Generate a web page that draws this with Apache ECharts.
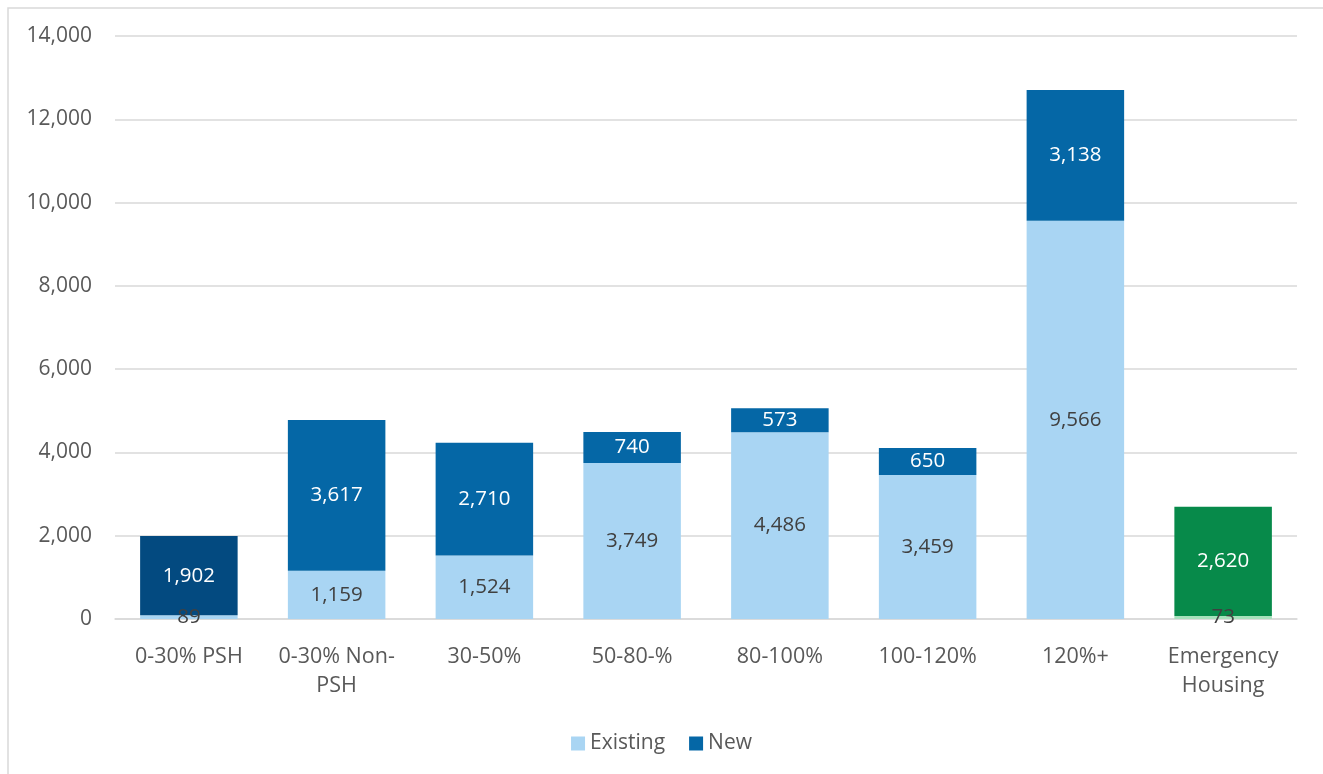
<!DOCTYPE html>
<html>
<head>
<meta charset="utf-8">
<script src="https://cdn.jsdelivr.net/npm/echarts@6/dist/echarts.min.js"></script>
<style>
  html, body { margin: 0; padding: 0; background: #ffffff; }
  #chart { width: 1323px; height: 774px; }
</style>
</head>
<body>
<div id="chart"></div>
<script>
// Housing units by income band
const categories = ['0-30% PSH', '0-30% Non-\nPSH', '30-50%', '50-80-%', '80-100%', '100-120%', '120%+', 'Emergency\nHousing'];
const existingUnits = [89, 1159, 1524, 3749, 4486, 3459, 9566, 73];
const newUnits = [1902, 3617, 2710, 740, 573, 650, 3138, 2620];
const yTicks = { min: 0, max: 14000, interval: 2000 };

const FONT = '"Open Sans", "Noto Sans", sans-serif';
const TEXT = '#595959';
const LIGHT_BLUE = '#A9D5F3';
const BLUE = '#0567A6';
const NAVY = '#034A80';
const GREEN = '#078A4A';
const LIGHT_GREEN = '#A6E1BC';

const fmt = v => v.toLocaleString('en-US');

// Per-bar colours: first band is darker, last band is green
const existingData = existingUnits.map((v, i) => ({
  value: v,
  itemStyle: { color: i === categories.length - 1 ? LIGHT_GREEN : LIGHT_BLUE }
}));
const newData = newUnits.map((v, i) => ({
  value: v,
  itemStyle: { color: i === 0 ? NAVY : (i === categories.length - 1 ? GREEN : BLUE) }
}));

const chart = echarts.init(document.getElementById('chart'), null, { renderer: 'canvas' });
chart.setOption({
  animation: false,
  backgroundColor: '#ffffff',
  textStyle: { fontFamily: FONT },
  graphic: [{
    type: 'rect',
    shape: { x: 8, y: 8, width: 1330, height: 800 },
    style: { fill: 'none', stroke: '#D9D9D9', lineWidth: 1.5 },
    silent: true
  }],
  legend: {
    bottom: 15,
    left: 'center',
    itemWidth: 14,
    itemHeight: 14,
    itemGap: 24,
    icon: 'rect',
    textStyle: { color: TEXT, fontSize: 21, fontFamily: FONT },
    data: [
      { name: 'Existing', itemStyle: { color: LIGHT_BLUE } },
      { name: 'New', itemStyle: { color: BLUE } }
    ]
  },
  grid: { left: 115, right: 26, top: 36, bottom: 155, containLabel: false },
  xAxis: {
    type: 'category',
    data: categories,
    axisLine: { lineStyle: { color: '#D9D9D9', width: 1.5 } },
    axisTick: { show: false },
    axisLabel: { color: TEXT, fontSize: 21.5, fontFamily: FONT, margin: 23, lineHeight: 29, interval: 0 }
  },
  yAxis: {
    type: 'value',
    min: yTicks.min,
    max: yTicks.max,
    interval: yTicks.interval,
    axisLine: { show: false },
    axisTick: { show: false },
    splitLine: { lineStyle: { color: '#D9D9D9', width: 1.5 } },
    axisLabel: { color: TEXT, fontSize: 21, fontFamily: FONT, margin: 23, formatter: v => fmt(v) }
  },
  series: [
    {
      name: 'Existing',
      type: 'bar',
      stack: 'units',
      barWidth: '66%',
      data: existingData,
      label: {
        show: true,
        position: 'inside',
        color: '#404040',
        fontSize: 20.5,
        fontFamily: FONT,
        formatter: p => fmt(p.value)
      },
      labelLayout: { hideOverlap: false }
    },
    {
      name: 'New',
      type: 'bar',
      stack: 'units',
      barWidth: '66%',
      data: newData,
      label: {
        show: true,
        position: 'inside',
        color: '#ffffff',
        fontSize: 20.5,
        fontFamily: FONT,
        formatter: p => fmt(p.value)
      }
    }
  ]
});
</script>
</body>
</html>
